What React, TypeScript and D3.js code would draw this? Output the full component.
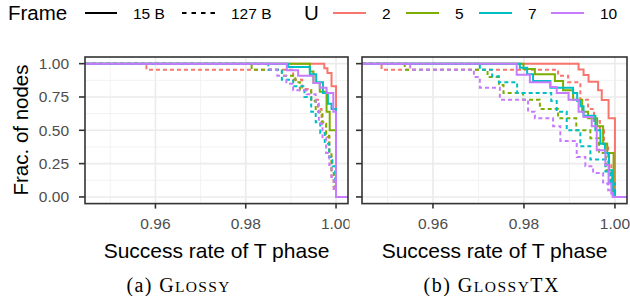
import React from 'react';
import * as d3 from 'd3';

const uLevels = ['2', '5', '7', '10'];
const uColors = ['#F8766D', '#7CAE00', '#00BFC4', '#C77CFF'];
const frameLevels = ['15 B', '127 B'];
const xTicks = [0.96, 0.98, 1.0];
const xMinor = [0.95, 0.97, 0.99];
const yTicks = [0, 0.25, 0.5, 0.75, 1];
const yMinor = [0.125, 0.375, 0.625, 0.875];

// each entry: [success rate where the step drops, fraction of nodes after it]
// (a) Glossy, 15 B frames
const glossy15U2 = [[0.9974, 0.965], [0.9981, 0.93], [0.999, 0.83], [1.0, 0]];
const glossy15U5 = [[0.9942, 0.942], [0.995, 0.855], [0.9964, 0.79], [0.9979, 0.64], [0.9986, 0.5], [1.0, 0]];
const glossy15U7 = [[0.9894, 0.975], [0.9942, 0.92], [0.9956, 0.86], [0.9971, 0.78], [0.9982, 0.7], [0.999, 0.66], [1.0, 0]];
const glossy15U10 = [[0.9891, 0.95], [0.9916, 0.91], [0.995, 0.855], [0.9964, 0.82], [0.9979, 0.78], [0.9994, 0.64], [1.0, 0]];
// (a) Glossy, 127 B frames
const glossy127U2 = [[0.958, 0.955], [0.9905, 0.88], [0.9925, 0.81], [0.9945, 0.73], [0.996, 0.66], [0.9968, 0.56], [0.9978, 0.45], [0.9985, 0.3], [0.999, 0.15], [0.9995, 0.05], [1.0, 0]];
const glossy127U5 = [[0.9813, 0.955], [0.988, 0.91], [0.991, 0.86], [0.992, 0.8], [0.9945, 0.72], [0.9955, 0.64], [0.997, 0.55], [0.9978, 0.46], [0.9985, 0.32], [0.999, 0.2], [0.9995, 0.08], [1.0, 0]];
const glossy127U7 = [[0.985, 0.955], [0.988, 0.88], [0.9905, 0.83], [0.993, 0.75], [0.9945, 0.64], [0.9955, 0.56], [0.9965, 0.48], [0.9975, 0.4], [0.9985, 0.3], [0.9992, 0.23], [0.9998, 0.1], [1.0, 0]];
const glossy127U10 = [[0.9853, 0.955], [0.987, 0.91], [0.989, 0.85], [0.9905, 0.8], [0.9935, 0.77], [0.9955, 0.7], [0.9962, 0.55], [0.997, 0.44], [0.9978, 0.33], [0.9985, 0.24], [0.999, 0.15], [0.9995, 0.05], [1.0, 0]];
// (b) GlossyTX, 15 B frames
const tx15U2 = [[0.992, 0.957], [0.9931, 0.915], [0.9942, 0.865], [0.9963, 0.8], [0.9971, 0.727], [0.9986, 0.59], [1.0, 0]];
const tx15U5 = [[0.9799, 0.96], [0.9824, 0.92], [0.9868, 0.87], [0.9886, 0.8], [0.9908, 0.73], [0.9928, 0.64], [0.9941, 0.59], [0.9961, 0.53], [0.9974, 0.4], [0.9983, 0.33], [0.9997, 0]];
const tx15U7 = [[0.9791, 0.97], [0.9807, 0.92], [0.982, 0.87], [0.9858, 0.82], [0.9908, 0.78], [0.9917, 0.72], [0.9924, 0.68], [0.9931, 0.61], [0.9957, 0.5], [0.9968, 0.4], [0.9978, 0.33], [0.9987, 0.2], [0.9994, 0.05], [1.0, 0]];
const tx15U10 = [[0.9784, 0.917], [0.9813, 0.86], [0.9858, 0.825], [0.9872, 0.78], [0.9898, 0.73], [0.992, 0.64], [0.9931, 0.6], [0.9949, 0.53], [0.996, 0.35], [0.9979, 0.24], [0.9986, 0.1], [0.9992, 0.03], [0.9995, 0]];
// (b) GlossyTX, 127 B frames
const tx127U2 = [[0.9487, 0.955], [0.9875, 0.91], [0.9897, 0.86], [0.9924, 0.73], [0.9941, 0.66], [0.9954, 0.57], [0.9967, 0.5], [0.9976, 0.4], [0.9985, 0.25], [0.9992, 0.12], [0.9996, 0]];
const tx127U5 = [[0.9538, 0.955], [0.972, 0.9], [0.9745, 0.84], [0.9755, 0.78], [0.9798, 0.73], [0.9835, 0.66], [0.9875, 0.59], [0.9915, 0.5], [0.9946, 0.44], [0.9965, 0.33], [0.998, 0.2], [0.999, 0.1], [0.9996, 0.03], [1.0, 0]];
const tx127U7 = [[0.9703, 0.955], [0.973, 0.905], [0.9745, 0.86], [0.9785, 0.78], [0.986, 0.72], [0.9872, 0.64], [0.9894, 0.5], [0.9924, 0.38], [0.9946, 0.28], [0.9979, 0.19], [0.999, 0.1], [1.0, 0]];
const tx127U10 = [[0.955, 0.955], [0.969, 0.9], [0.9703, 0.82], [0.9747, 0.73], [0.9809, 0.64], [0.9824, 0.59], [0.9864, 0.53], [0.988, 0.42], [0.9916, 0.3], [0.9935, 0.23], [0.9952, 0.18], [0.9974, 0.1], [0.9985, 0.05], [0.9993, 0.02], [1.0, 0]];

const glossy15 = [glossy15U2, glossy15U5, glossy15U7, glossy15U10];
const glossy127 = [glossy127U2, glossy127U5, glossy127U7, glossy127U10];
const tx15 = [tx15U2, tx15U5, tx15U7, tx15U10];
const tx127 = [tx127U2, tx127U5, tx127U7, tx127U10];

const X_DOMAIN: [number, number] = [0.9444, 1.00265];
const PANEL_TOP = 57;
const PANEL_BOTTOM = 203.6;
const SANS = 'Liberation Sans, Arial, sans-serif';
const SERIF = 'Liberation Serif, Times New Roman, serif';
const DASH = '4,3';

const yScale = d3.scaleLinear().domain([-0.05, 1.05]).range([PANEL_BOTTOM, PANEL_TOP]);

function Panel({ id, left, right, solid, dashed, showYLabels }: any) {
  const x = d3.scaleLinear().domain(X_DOMAIN).range([left, right]);
  const line = d3
    .line<number[]>()
    .x((d) => x(d[0]))
    .y((d) => yScale(d[1]))
    .curve(d3.curveStepAfter);
  const pts = (steps: number[][]) => [[X_DOMAIN[0], 1], ...steps, [X_DOMAIN[1], 0]];
  const w = right - left;
  const h = PANEL_BOTTOM - PANEL_TOP;
  return (
    <g>
      <defs>
        <clipPath id={id}>
          <rect x={left} y={PANEL_TOP} width={w} height={h} />
        </clipPath>
      </defs>
      <rect x={left} y={PANEL_TOP} width={w} height={h} fill="#fff" />
      {xMinor.map((t) => (
        <line key={'xm' + t} x1={x(t)} x2={x(t)} y1={PANEL_TOP} y2={PANEL_BOTTOM} stroke="#F2F2F2" strokeWidth={1} />
      ))}
      {yMinor.map((t) => (
        <line key={'ym' + t} x1={left} x2={right} y1={yScale(t)} y2={yScale(t)} stroke="#F2F2F2" strokeWidth={1} />
      ))}
      {xTicks.map((t) => (
        <line key={'xg' + t} x1={x(t)} x2={x(t)} y1={PANEL_TOP} y2={PANEL_BOTTOM} stroke="#EBEBEB" strokeWidth={1.6} />
      ))}
      {yTicks.map((t) => (
        <line key={'yg' + t} x1={left} x2={right} y1={yScale(t)} y2={yScale(t)} stroke="#EBEBEB" strokeWidth={1.6} />
      ))}
      <g clipPath={`url(#${id})`} fill="none" strokeWidth={2}>
        {uLevels.map((u, i) => (
          <g key={u}>
            <path d={line(pts(solid[i])) || ''} stroke={uColors[i]} />
            <path d={line(pts(dashed[i])) || ''} stroke={uColors[i]} strokeDasharray={DASH} />
          </g>
        ))}
      </g>
      <rect x={left} y={PANEL_TOP} width={w} height={h} fill="none" stroke="#333333" strokeWidth={1.6} />
      {xTicks.map((t) => (
        <g key={'xt' + t}>
          <line x1={x(t)} x2={x(t)} y1={PANEL_BOTTOM} y2={PANEL_BOTTOM + 5} stroke="#333333" strokeWidth={1.6} />
          <text x={x(t)} y={228.5} textAnchor="middle" fontFamily={SANS} fontSize={15.5} fill="#4D4D4D">
            {d3.format('.2f')(t)}
          </text>
        </g>
      ))}
      {yTicks.map((t) => (
        <g key={'yt' + t}>
          <line x1={left - 6} x2={left} y1={yScale(t)} y2={yScale(t)} stroke="#333333" strokeWidth={1.6} />
          {showYLabels && (
            <text x={69} y={yScale(t) + 5.5} textAnchor="end" fontFamily={SANS} fontSize={15.5} fill="#4D4D4D">
              {d3.format('.2f')(t)}
            </text>
          )}
        </g>
      ))}
      <text x={(left + right) / 2} y={258} textAnchor="middle" fontFamily={SANS} fontSize={21} fill="#000">
        Success rate of T phase
      </text>
    </g>
  );
}

function Legend() {
  const keyX = [333, 406, 479, 551];
  return (
    <g fontFamily={SANS}>
      <text x={8} y={20} fontSize={20.5}>Frame</text>
      <line x1={85} x2={117} y1={13} y2={13} stroke="#000" strokeWidth={2} />
      <text x={133} y={19} fontSize={15.5}>{frameLevels[0]}</text>
      <line x1={182} x2={217} y1={13} y2={13} stroke="#000" strokeWidth={2} strokeDasharray="4.5,5" />
      <text x={231} y={19} fontSize={15.5}>{frameLevels[1]}</text>
      <text x={304} y={20} fontSize={20.5}>U</text>
      {uLevels.map((u, i) => (
        <g key={u}>
          <line x1={keyX[i]} x2={keyX[i] + 33} y1={13} y2={13} stroke={uColors[i]} strokeWidth={2} />
          <text x={keyX[i] + 49} y={19} fontSize={15.5}>{u}</text>
        </g>
      ))}
    </g>
  );
}

export default function App() {
  return (
    <svg width={630} height={296} style={{ position: 'absolute', left: 0, top: 0, background: '#fff' }}>
      <rect width={630} height={296} fill="#fff" />
      <Legend />
      <text transform="translate(28,130) rotate(-90)" textAnchor="middle" fontFamily={SANS} fontSize={20.5}>
        Frac. of nodes
      </text>
      <svg x={0} y={0} width={349.5} height={296} overflow="hidden">
        <Panel id="clipA" left={85} right={348} solid={glossy15} dashed={glossy127} showYLabels />
      </svg>
      <svg x={351} y={0} width={279} height={296} overflow="hidden">
        <g transform="translate(-351,0)">
          <Panel id="clipB" left={362} right={627} solid={tx15} dashed={tx127} showYLabels={false} />
        </g>
      </svg>
      <text x={178} y={292} textAnchor="middle" fontFamily={SERIF} fontSize={20} textLength={103} lengthAdjust="spacing">
        (a) G<tspan fontSize={15.5}>LOSSY</tspan>
      </text>
      <text x={491} y={292} textAnchor="middle" fontFamily={SERIF} fontSize={20} textLength={135} lengthAdjust="spacing">
        (b) G<tspan fontSize={15.5}>LOSSY</tspan>TX
      </text>
    </svg>
  );
}
